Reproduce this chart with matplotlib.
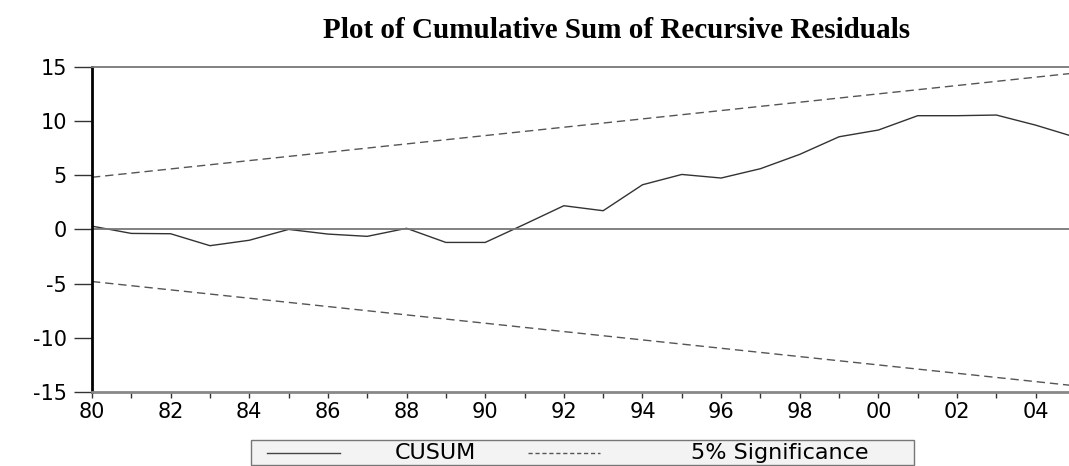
import matplotlib
matplotlib.use("Agg")
import matplotlib.pyplot as plt
from matplotlib.lines import Line2D
from matplotlib.patches import Rectangle

# CUSUM values, one per year
years = list(range(1980, 2006))
cusum = [0.3, -0.37, -0.4, -1.5, -1.0, 0.0, -0.43, -0.64, 0.1, -1.2, -1.2,
         0.47, 2.18, 1.72, 4.11, 5.06, 4.73, 5.59, 6.91, 8.53, 9.15,
         10.47, 10.47, 10.53, 9.6, 8.5]

# 5% significance bounds (straight lines, end points only)
bound_years = [1980, 2005]
upper = [4.8, 14.4]
lower = [-4.8, -14.4]

tick_years = list(range(1980, 2005, 2))
tick_labels = [f"{y % 100:02d}" for y in tick_years]
y_ticks = [-15, -10, -5, 0, 5, 10, 15]

W, H = 1069, 466
fig = plt.figure(figsize=(W / 100, H / 100), dpi=100)
plt.rcParams['font.family'] = ['DejaVu Sans']

# axes box in pixels: left 92, right 1075 (beyond edge), top 66.5, bottom 392.3
ax = fig.add_axes([92 / W, 1 - 392.3 / H, (1075 - 92) / W, (392.3 - 66.5) / H])

ax.plot(years, cusum, color='#333333', lw=1.0)
ax.plot(bound_years, upper, color='#555555', lw=1.0, dashes=(6, 3.5))
ax.plot(bound_years, lower, color='#555555', lw=1.0, dashes=(6, 3.5))
ax.axhline(0, color='#777777', lw=1.3)

ax.set_xlim(1980, 2005)
ax.set_ylim(-15, 15)
ax.set_xticks(years, minor=True)
ax.set_xticks(tick_years)
ax.set_xticklabels(tick_labels)
ax.set_yticks(y_ticks)
ax.set_yticklabels([str(v) for v in y_ticks])

ax.tick_params(axis='x', which='both', direction='out', length=4, width=1,
               color='#333333', labelsize=15, pad=3)
ax.tick_params(axis='y', direction='out', length=13, width=1,
               color='#333333', labelsize=15, pad=5)

ax.spines['right'].set_visible(False)
ax.spines['left'].set_color('black')
ax.spines['left'].set_linewidth(2.0)
ax.spines['top'].set_color('#777777')
ax.spines['top'].set_linewidth(1.3)
ax.spines['bottom'].set_color('#888888')
ax.spines['bottom'].set_linewidth(2.0)

fig.text(617 / W, 1 - 30 / H, "Plot of Cumulative Sum of Recursive Residuals",
         ha='center', va='center', fontsize=21, fontweight='bold',
         family='Liberation Serif')

# legend drawn by hand, text runs past the box like in the original
fig.patches.append(Rectangle((251 / W, 1 - 465 / H), (914 - 251) / W, (465 - 440) / H,
                             transform=fig.transFigure, facecolor='#f3f3f3',
                             edgecolor='#777777', lw=1.0))
ly = 1 - 453 / H
fig.lines.append(Line2D([267 / W, 340 / W], [ly, ly], transform=fig.transFigure,
                        color='#444444', lw=1.0))
fig.lines.append(Line2D([528 / W, 600 / W], [ly, ly], transform=fig.transFigure,
                        color='#555555', lw=1.0, dashes=(3, 2)))
fig.text(435 / W, ly, "CUSUM", ha='center', va='center', fontsize=16)
fig.text(780 / W, ly, "5% Significance", ha='center', va='center', fontsize=16)

fig.savefig("out.png", dpi=100)
